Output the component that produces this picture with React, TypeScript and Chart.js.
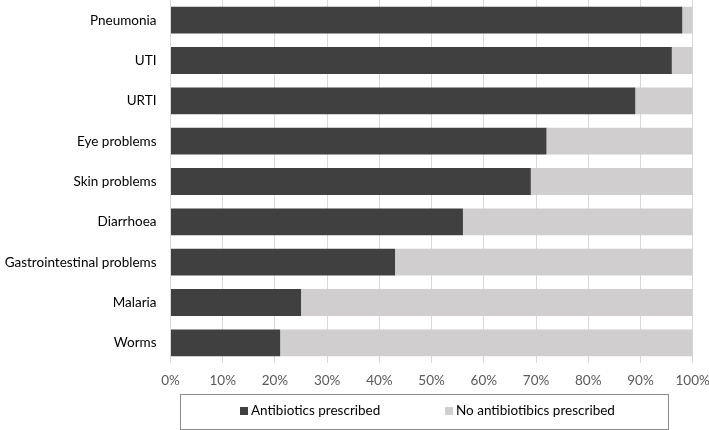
import React, { useEffect, useRef } from "react";
import { Chart, registerables } from "chart.js";

Chart.register(...registerables);

const categories = [
  "Pneumonia",
  "UTI",
  "URTI",
  "Eye problems",
  "Skin problems",
  "Diarrhoea",
  "Gastrointestinal problems",
  "Malaria",
  "Worms",
];
const antibioticsPrescribed = [98, 96, 89, 72, 69, 56, 43, 25, 21];
const noAntibioticsPrescribed = [2, 4, 11, 28, 31, 44, 57, 75, 79];
const seriesLabels = ["Antibiotics prescribed", "No antibiotibics prescribed"];
const seriesColors = ["#404040", "#d0cece"];

const FONT = "Lato, 'Open Sans', 'Liberation Sans', sans-serif";

const legendPlugin = {
  id: "boxedLegend",
  afterDraw(chart: any) {
    const ctx = chart.ctx;
    ctx.save();
    ctx.strokeStyle = "#8c8c8c";
    ctx.lineWidth = 1;
    ctx.strokeRect(180.5, 394.5, 488, 35);
    ctx.font = `13.5px ${FONT}`;
    ctx.textBaseline = "middle";
    ctx.textAlign = "left";
    const items = [
      { x: 240, label: seriesLabels[0], color: seriesColors[0] },
      { x: 445, label: seriesLabels[1], color: seriesColors[1] },
    ];
    items.forEach((it) => {
      ctx.fillStyle = it.color;
      ctx.fillRect(it.x, 407, 8, 8);
      ctx.fillStyle = "#000000";
      ctx.fillText(it.label, it.x + 11, 411);
    });
    ctx.restore();
  },
};

export default function App() {
  const ref = useRef<HTMLCanvasElement | null>(null);
  useEffect(() => {
    if (!ref.current) return;
    const chart = new Chart(ref.current, {
      type: "bar",
      data: {
        labels: categories,
        datasets: [
          {
            label: seriesLabels[0],
            data: antibioticsPrescribed,
            backgroundColor: seriesColors[0],
            categoryPercentage: 1,
            barPercentage: 0.667,
          },
          {
            label: seriesLabels[1],
            data: noAntibioticsPrescribed,
            backgroundColor: seriesColors[1],
            categoryPercentage: 1,
            barPercentage: 0.667,
          },
        ],
      },
      options: {
        indexAxis: "y",
        animation: false,
        responsive: false,
        maintainAspectRatio: false,
        layout: { padding: { left: 0, right: 16.3, top: 0, bottom: 0 } },
        plugins: {
          legend: { display: false },
          tooltip: { enabled: false },
        },
        scales: {
          x: {
            stacked: true,
            min: 0,
            max: 100,
            ticks: {
              stepSize: 10,
              color: "#595959",
              font: { family: FONT, size: 13.5 },
              padding: 10,
              callback: (v: any) => `${v}%`,
            },
            grid: { color: "#d9d9d9", drawTicks: false },
            border: { display: false },
            afterFit: (s: any) => {
              s.height = 67;
              s.paddingLeft = 0;
              s.paddingRight = 0;
            },
          },
          y: {
            stacked: true,
            ticks: {
              color: "#000000",
              font: { family: FONT, size: 13.5 },
              padding: 14,
            },
            grid: { display: false, drawTicks: false },
            border: { display: false },
            afterFit: (s: any) => {
              s.width = 170.5;
              s.paddingTop = 0;
              s.paddingBottom = 0;
            },
          },
        },
      },
      plugins: [legendPlugin],
    });
    return () => chart.destroy();
  }, []);
  return (
    <div style={{ position: "fixed", left: 0, top: 0, width: 709, height: 430, background: "#fff" }}>
      <canvas ref={ref} width={709} height={430} style={{ width: 709, height: 430 }} />
    </div>
  );
}
